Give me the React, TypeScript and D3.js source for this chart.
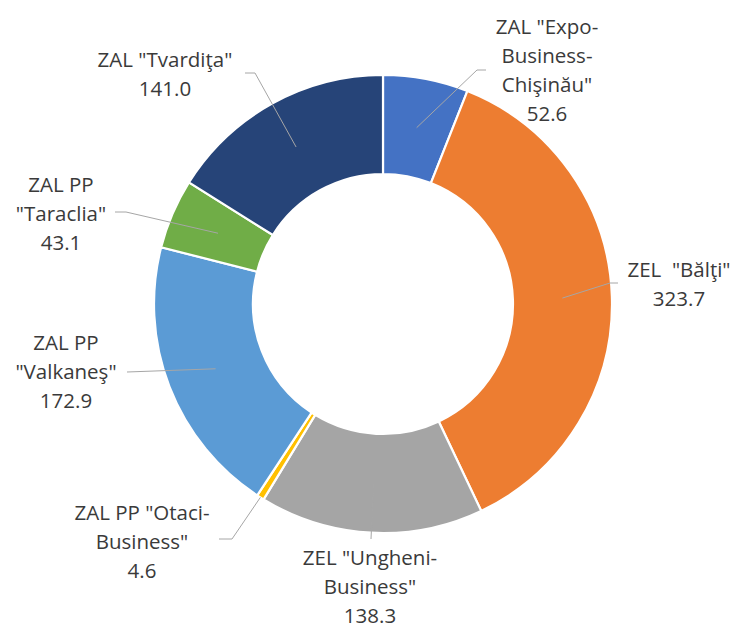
import React from "react";
import * as d3 from "d3";

// ---- data ----
const categories = [
  'ZAL "Expo-Business-Chişinău"',
  'ZEL "Bălţi"',
  'ZEL "Ungheni-Business"',
  'ZAL PP "Otaci-Business"',
  'ZAL PP "Valkaneş"',
  'ZAL PP "Taraclia"',
  'ZAL "Tvardiţa"',
];
const values = [52.6, 323.7, 138.3, 4.6, 172.9, 43.1, 141.0];
const labelLines = [
  ['ZAL "Expo-', "Business-", 'Chişinău"'],
  ['ZEL  "Bălţi"'],
  ['ZEL "Ungheni-', 'Business"'],
  ['ZAL PP "Otaci-', 'Business"'],
  ["ZAL PP", '"Valkaneş"'],
  ["ZAL PP", '"Taraclia"'],
  ['ZAL "Tvardiţa"'],
];
const colors = ["#4472C4", "#ED7D31", "#A5A5A5", "#FFC000", "#5B9BD5", "#70AD47", "#264478"];

// ---- layout ----
const W = 735;
const H = 628;
const CX = 383;
const CY = 304;
const R_OUT = 229;
const R_IN = 130;
const LINE_H = 29;
const labelLayout = [
  { x: 547, y: 27, start: [486, 70], elbow: [477, 70], outer: false },
  { x: 679, y: 270, start: [618, 283], elbow: [610, 283], outer: false },
  { x: 370, y: 558, start: [371, 539], elbow: null, outer: false },
  { x: 142, y: 513, start: [219, 539], elbow: [232, 539], outer: true },
  { x: 66, y: 343, start: [127, 372], elbow: null, outer: false },
  { x: 61, y: 185, start: [115, 212], elbow: [126, 212], outer: false },
  { x: 165, y: 60, start: [245, 73], elbow: [255, 73], outer: false },
];

export default function App() {
  const data = categories.map((c, i) => ({ name: c, value: values[i], i }));
  const pie = d3
    .pie<any>()
    .sort(null)
    .value((d: any) => d.value)
    .startAngle(0)
    .endAngle(2 * Math.PI);
  const arcs = pie(data);
  const arc = d3.arc<any>().innerRadius(R_IN).outerRadius(R_OUT);
  const line = d3.line();

  return (
    <div style={{ position: "absolute", left: 0, top: 0 }}>
      <svg width={W} height={H} style={{ display: "block", background: "#fff" }}>
        <g transform={`translate(${CX},${CY})`}>
          {arcs.map((a: any, i: number) => (
            <path key={i} d={arc(a) as string} fill={colors[i]} stroke="#fff" strokeWidth={2.2} />
          ))}
        </g>
        {arcs.map((a: any, i: number) => {
          const L = labelLayout[i];
          const mid = (a.startAngle + a.endAngle) / 2;
          const rr = L.outer ? R_OUT : (R_IN + R_OUT) / 2;
          const end: [number, number] = [CX + rr * Math.sin(mid), CY - rr * Math.cos(mid)];
          const pts: [number, number][] = [L.start as [number, number]];
          if (L.elbow) pts.push(L.elbow as [number, number]);
          pts.push(end);
          return (
            <path key={"l" + i} d={line(pts) as string} fill="none" stroke="#A6A6A6" strokeWidth={1} />
          );
        })}
        {arcs.map((a: any, i: number) => {
          const L = labelLayout[i];
          const lines = [...labelLines[i], d3.format(".1f")(values[i])];
          return (
            <text
              key={"t" + i}
              textAnchor="middle"
              fontFamily="'Open Sans', sans-serif"
              fontSize={20.5}
              fill="#3a3a3a"
              style={{ whiteSpace: "pre" }}
            >
              {lines.map((s, k) => (
                <tspan key={k} x={L.x} y={L.y + k * LINE_H} dy="0.36em">
                  {s}
                </tspan>
              ))}
            </text>
          );
        })}
      </svg>
    </div>
  );
}
